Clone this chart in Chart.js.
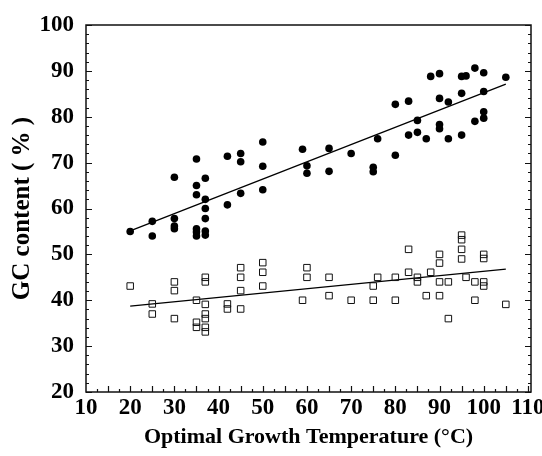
<!DOCTYPE html>
<html>
<head>
<meta charset="utf-8">
<script src="https://cdn.jsdelivr.net/npm/chart.js@4/dist/chart.umd.min.js"></script>
<style>
  html, body { margin: 0; padding: 0; background: #fff; }
  #wrap { width: 542px; height: 456px; }
</style>
</head>
<body>
<div id="wrap"><canvas id="gcChart"></canvas></div>
<script>
// optimal growth temperature (°C) and GC content (%)
const circleTemp = [20, 25, 25, 30, 30, 30, 30, 35, 35, 35, 35, 35, 35,
  37, 37, 37, 37, 37, 37, 42, 42, 45, 45, 45, 50, 50, 50, 59, 60, 60,
  65, 65, 70, 75, 75, 76, 80, 80, 83, 83, 85, 85, 87, 88, 90, 90, 90, 90,
  92, 92, 95, 96, 95, 95, 98, 98, 100, 100, 100, 100, 105];
const circleGC = [55, 57.2, 54, 66.8, 57.8, 56.2, 55.6, 70.8, 65, 63, 55.6, 54.9, 54,
  66.6, 62, 60, 57.8, 55.1, 54.2, 71.4, 60.8, 72, 70.2, 63.3, 74.5, 69.2, 64.1, 72.9, 69.3, 67.7,
  73.1, 68.1, 72, 69, 68, 75.2, 71.6, 82.7, 83.4, 76, 79.2, 76.6, 75.2, 88.8, 89.4, 84, 78.3, 77.4,
  83.2, 75.2, 88.8, 88.9, 85.1, 76, 90.6, 79, 89.6, 85.5, 81.1, 79.7, 88.6];

const squareTemp = [20, 25, 25, 30, 30, 30, 35, 35, 35, 37, 37, 37, 37, 37, 37, 37,
  42, 42, 45, 45, 45, 45, 50, 50, 50, 59, 60, 60, 65, 65, 70, 75, 75, 76, 80, 80,
  83, 83, 85, 85, 87, 88, 90, 90, 90, 90, 92, 92, 95, 95, 95, 95, 96, 98, 98,
  100, 100, 100, 100, 105];
const squareGC = [43.1, 39.2, 37, 44, 42.1, 36, 40, 35.2, 34.1, 45, 44, 39.1, 37, 36, 34.1, 33.1,
  39.2, 38.1, 47.1, 45, 42.1, 38.1, 48.2, 46.1, 43.1, 40, 47.1, 45, 45, 41, 40, 43.1, 40, 45, 45, 40,
  51.1, 46.1, 45, 44, 41, 46.1, 50, 48.1, 44, 41, 44, 36, 54.2, 53.2, 51.1, 49, 45, 44, 40,
  50, 49.1, 44, 43.1, 39.1];

// regression line end points
const fitTemp = [20, 105];
const circleFit = [55.1, 87.1];
const squareFit = [38.7, 46.8];

const xTicks = [10, 20, 30, 40, 50, 60, 70, 80, 90, 100, 110];
const yTicks = [20, 30, 40, 50, 60, 70, 80, 90, 100];

const toPoints = (xs, ys) => xs.map((x, i) => ({ x: x, y: ys[i] }));

const serif = "'Liberation Serif', 'Times New Roman', serif";

// frame plus inward tick marks
const framePlugin = {
  id: "frame",
  afterDatasetsDraw(chart) {
    const { ctx, chartArea: a, scales: { x, y } } = chart;
    ctx.save();
    ctx.strokeStyle = "#111";
    ctx.lineWidth = 1.2;
    ctx.beginPath();
    for (let v = 20; v <= 100.01; v += 2) {
      const py = Math.round(y.getPixelForValue(v)) + 0.5;
      const len = v % 10 === 0 ? 6 : 3;
      ctx.moveTo(a.left, py); ctx.lineTo(a.left + len, py);
      ctx.moveTo(a.right, py); ctx.lineTo(a.right - len, py);
    }
    for (let t = 12.5; t <= 110.01; t += 2.5) {
      const px = Math.round(x.getPixelForValue(t)) + 0.5;
      const len = t % 5 === 0 ? 6 : 3;
      ctx.moveTo(px, a.bottom); ctx.lineTo(px, a.bottom - len);
    }
    ctx.stroke();
    ctx.lineWidth = 1.5;
    ctx.strokeRect(a.left, a.top, a.right - a.left, a.bottom - a.top);
    ctx.restore();
  }
};

new Chart(document.getElementById("gcChart"), {
  type: "scatter",
  data: {
    datasets: [
      {
        label: "GC (circles)",
        data: toPoints(circleTemp, circleGC),
        pointStyle: "circle",
        pointRadius: 3.8,
        backgroundColor: "#000",
        borderColor: "#000",
        borderWidth: 0
      },
      {
        label: "GC (squares)",
        data: toPoints(squareTemp, squareGC),
        pointStyle: "rect",
        pointRadius: 4.6,
        backgroundColor: "rgba(0,0,0,0)",
        borderColor: "#111",
        borderWidth: 1
      },
      {
        label: "fit circles",
        data: toPoints(fitTemp, circleFit),
        showLine: true,
        pointRadius: 0,
        borderColor: "#000",
        borderWidth: 1.3
      },
      {
        label: "fit squares",
        data: toPoints(fitTemp, squareFit),
        showLine: true,
        pointRadius: 0,
        borderColor: "#000",
        borderWidth: 1.3
      }
    ]
  },
  options: {
    responsive: true,
    maintainAspectRatio: false,
    animation: false,
    layout: { padding: { top: 25, right: 11, left: 0, bottom: 0 } },
    plugins: { legend: { display: false }, tooltip: { enabled: false } },
    scales: {
      x: {
        type: "linear",
        min: 10,
        max: 110.7,
        grid: { display: false, drawTicks: false },
        border: { display: false },
        afterBuildTicks: (s) => { s.ticks = xTicks.map(v => ({ value: v })); },
        afterFit: (s) => { s.height = 64; s.paddingLeft = 0; s.paddingRight = 0; },
        ticks: {
          autoSkip: false, maxRotation: 0, padding: 2, color: "#000",
          font: { family: serif, size: 23, weight: "bold" }
        },
        title: {
          display: true, text: "Optimal Growth Temperature (°C)", color: "#000",
          padding: { top: 0, bottom: 5 },
          font: { family: serif, size: 22, weight: "bold" }
        }
      },
      y: {
        type: "linear",
        min: 20,
        max: 100,
        grid: { display: false, drawTicks: false },
        border: { display: false },
        afterBuildTicks: (s) => { s.ticks = yTicks.map(v => ({ value: v })); },
        afterFit: (s) => { s.width = 86; s.paddingTop = 0; s.paddingBottom = 0; },
        ticks: {
          autoSkip: false, padding: 12, color: "#000",
          font: { family: serif, size: 23, weight: "bold" }
        },
        title: {
          display: true, text: "GC content ( % )", color: "#000",
          padding: { top: 8, bottom: 0 },
          font: { family: serif, size: 25, weight: "bold" }
        }
      }
    }
  },
  plugins: [framePlugin]
});
</script>
</body>
</html>
